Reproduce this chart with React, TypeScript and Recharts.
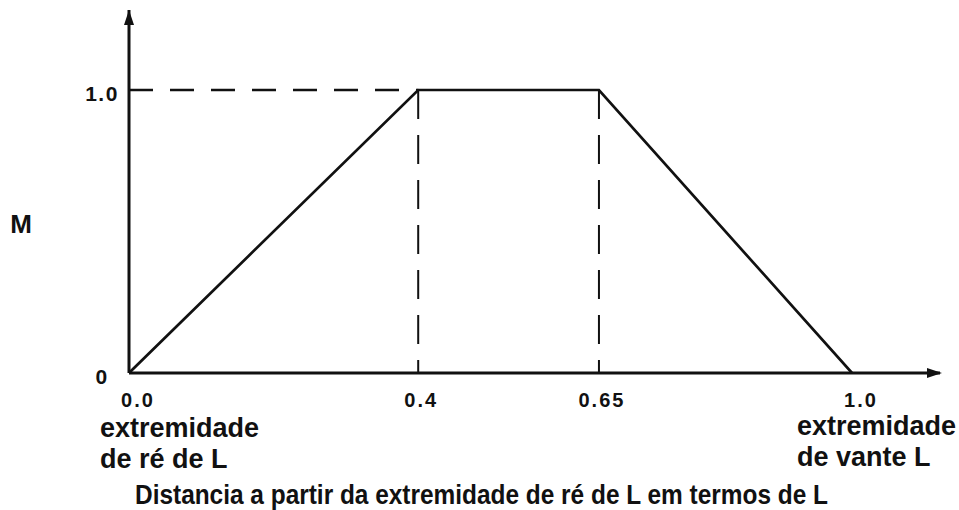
import { LineChart, Line, XAxis, YAxis, ReferenceLine, ReferenceDot } from "recharts";

// longitudinal position along L (0 = aft end, 1 = forward end) and the M factor
const positions = [0, 0.4, 0.65, 1.0];
const mFactor = [0, 1.0, 1.0, 0];

const xTicks = [0, 0.4, 0.65, 1.0];
const xTickLabels = ["0.0", "0.4", "0.65", "1.0"];
const yTicks = [0, 1.0];
const yTickLabels = ["0", "1.0"];

const yAxisName = "M";
const aftLabel = ["extremidade", "de ré de L"];
const foreLabel = ["extremidade", "de vante L"];
const xAxisTitle = "Distancia a partir da extremidade de ré de L em termos de L";

const data = positions.map((x, i) => ({ x, m: mFactor[i] }));

const W = 959;
const H = 510;
const X_MAX = 1.1217;
const Y_MAX = 1.2827;
const INK = "#111";
const FONT = "'Liberation Sans', Arial, sans-serif";

const XTick = (props: any) => {
  const { x, y, payload, index } = props;
  const v = payload.value;
  const shift = v === 0 || v === 1 ? 9 : 3;
  return (
    <text
      x={x + shift}
      y={y + 26}
      textAnchor="middle"
      fontFamily={FONT}
      fontWeight="bold"
      fontSize={20}
      letterSpacing={2}
      fill={INK}
    >
      {xTickLabels[index] ?? String(v)}
    </text>
  );
};

const YTick = (props: any) => {
  const { y, payload, index } = props;
  return (
    <text
      x={102}
      y={y + 11}
      textAnchor="middle"
      fontFamily={FONT}
      fontWeight="bold"
      fontSize={21}
      letterSpacing={1.5}
      fill={INK}
    >
      {yTickLabels[index] ?? String(payload.value)}
    </text>
  );
};

const ArrowRight = (props: any) => {
  const { cx, cy } = props;
  return <polygon points={`${cx + 2},${cy} ${cx - 13},${cy - 5} ${cx - 13},${cy + 5}`} fill={INK} />;
};

const ArrowUp = (props: any) => {
  const { cx, cy } = props;
  return <polygon points={`${cx},${cy} ${cx - 5},${cy + 15} ${cx + 5},${cy + 15}`} fill={INK} />;
};

export default function App() {
  const textProps = {
    fontFamily: FONT,
    fontWeight: "bold" as const,
    fontSize: 27,
    fill: INK,
  };
  return (
    <div style={{ position: "absolute", left: 0, top: 0, width: W, height: H, background: "#fff" }}>
      <LineChart width={W} height={H} data={data} margin={{ top: 10, right: 19, left: 0, bottom: 0 }}>
        <XAxis
          type="number"
          dataKey="x"
          domain={[0, X_MAX]}
          ticks={xTicks}
          height={137}
          tickLine={false}
          axisLine={{ stroke: INK, strokeWidth: 3 }}
          tick={<XTick />}
          interval={0}
          allowDataOverflow
        />
        <YAxis
          type="number"
          domain={[0, Y_MAX]}
          ticks={yTicks}
          width={129}
          tickLine={false}
          axisLine={{ stroke: INK, strokeWidth: 3 }}
          tick={<YTick />}
          interval={0}
          allowDataOverflow
        />
        <ReferenceLine
          segment={[{ x: 0, y: 1 }, { x: 0.4, y: 1 }]}
          stroke={INK}
          strokeWidth={2.5}
          strokeDasharray="24 17"
          ifOverflow="visible"
        />
        <ReferenceLine
          segment={[{ x: 0.4, y: 1 }, { x: 0.4, y: 0 }]}
          stroke={INK}
          strokeWidth={2}
          strokeDasharray="29 16"
          ifOverflow="visible"
        />
        <ReferenceLine
          segment={[{ x: 0.65, y: 1 }, { x: 0.65, y: 0 }]}
          stroke={INK}
          strokeWidth={2}
          strokeDasharray="29 16"
          ifOverflow="visible"
        />
        <Line
          type="linear"
          dataKey="m"
          stroke={INK}
          strokeWidth={2.7}
          dot={false}
          activeDot={false}
          isAnimationActive={false}
        />
        <ReferenceDot x={X_MAX} y={0} r={0} shape={<ArrowRight />} ifOverflow="visible" />
        <ReferenceDot x={0} y={Y_MAX} r={0} shape={<ArrowUp />} ifOverflow="visible" />
      </LineChart>
      <svg
        width={W}
        height={H}
        style={{ position: "absolute", left: 0, top: 0, pointerEvents: "none" }}
      >
        <text x={21} y={233} textAnchor="middle" {...textProps} fontSize={26}>
          {yAxisName}
        </text>
        <text x={100} y={437} {...textProps}>
          {aftLabel[0]}
        </text>
        <text x={100} y={468} {...textProps}>
          {aftLabel[1]}
        </text>
        <text x={797} y={435} {...textProps}>
          {foreLabel[0]}
        </text>
        <text x={797} y={466} {...textProps}>
          {foreLabel[1]}
        </text>
        <text x={135} y={504} {...textProps} textLength={693} lengthAdjust="spacingAndGlyphs">
          {xAxisTitle}
        </text>
      </svg>
    </div>
  );
}
